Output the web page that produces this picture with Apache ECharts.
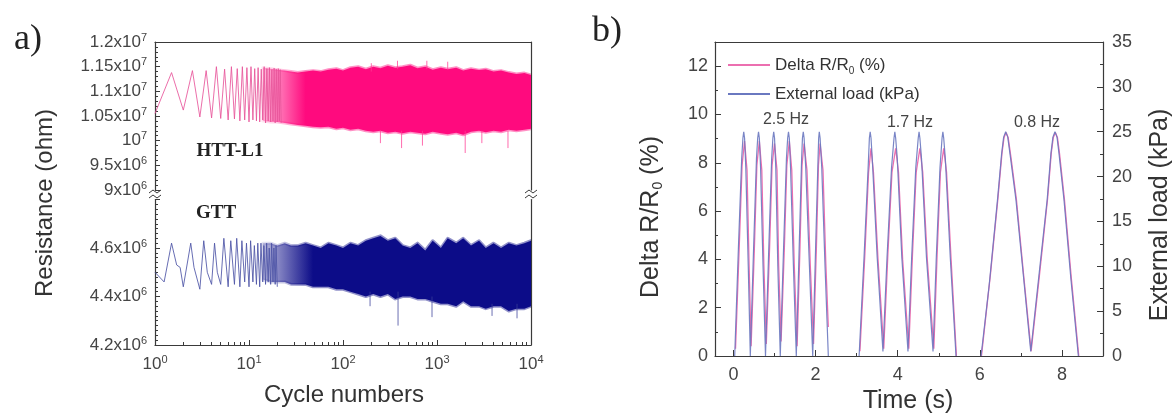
<!DOCTYPE html>
<html>
<head>
<meta charset="utf-8">
<script src="https://cdn.jsdelivr.net/npm/echarts@6/dist/echarts.min.js"></script>
<style>html,body{margin:0;padding:0;background:#fff;}#c{width:1175px;height:416px;}</style>
</head>
<body>
<div id="c"></div>
<script>
// ---------- Panel a data (resistance in MΩ, x = cycle number) ----------
const htEarly = [[1,10.55],[1.5,11.38],[2,10.62],[2.5,11.42],[3,10.48],[3.5,11.42],[4,10.46],[4.5,11.5],[5,10.45],[5.5,11.45],[6,10.42],[6.5,11.5],[7,10.44],[7.5,11.46],[8,10.4],[8.5,11.5],[9,10.42],[9.5,11.48],[10,10.38],[10.5,11.5],[11,10.42],[11.5,11.46],[12,10.4],[12.5,11.48],[13,10.38],[13.5,11.45],[14,10.42],[14.5,11.5],[15,10.36],[15.5,11.46],[16,10.4],[16.5,11.48],[17,10.38],[17.5,11.44],[18,10.4],[18.5,11.47],[19,10.36],[19.5,11.45],[20,10.38],[20.5,11.46],[21,10.4],[21.5,11.44],[22,10.36]];
const gttEarly = [[1,4.50],[1.25,4.46],[1.5,4.62],[1.7,4.53],[1.85,4.52],[2,4.44],[2.4,4.62],[2.6,4.52],[3,4.43],[3.3,4.63],[3.6,4.5],[4,4.45],[4.3,4.62],[4.6,4.5],[5,4.45],[5.4,4.64],[6,4.44],[6.4,4.63],[7,4.45],[7.4,4.64],[8,4.44],[8.4,4.63],[9,4.46],[9.4,4.62],[10,4.44],[10.4,4.63],[11,4.46],[11.4,4.61],[12,4.45],[12.4,4.62],[13,4.44],[13.4,4.62],[14,4.46],[14.4,4.61],[15,4.45],[15.4,4.62],[16,4.46],[16.4,4.6],[17,4.45],[17.4,4.62],[18,4.46],[18.4,4.6],[19,4.45],[19.4,4.61],[20,4.44]];

const bandCycles = [14,17,20,24,28,33,40,48,58,70,85,100,120,145,175,210,250,300,360,430,520,620,750,900,1100,1300,1600,1900,2300,2800,3300,4000,4800,5800,7000,8500,10000];
const htHigh = [11.48,11.46,11.44,11.42,11.40,11.38,11.40,11.42,11.40,11.44,11.46,11.42,11.48,11.50,11.45,11.50,11.47,11.52,11.48,11.50,11.53,11.47,11.50,11.44,11.48,11.45,11.48,11.42,11.46,11.43,11.45,11.40,11.42,11.38,11.35,11.37,11.33];
const htLow  = [10.40,10.38,10.38,10.36,10.34,10.32,10.30,10.28,10.27,10.28,10.24,10.26,10.22,10.24,10.20,10.18,10.20,10.16,10.18,10.15,10.18,10.16,10.14,10.18,10.15,10.13,10.16,10.12,10.18,10.20,10.17,10.20,10.18,10.22,10.20,10.22,10.24];
const gttHigh = [4.62,4.62,4.61,4.62,4.61,4.61,4.62,4.61,4.60,4.62,4.61,4.60,4.62,4.61,4.63,4.64,4.65,4.63,4.64,4.61,4.60,4.62,4.59,4.63,4.60,4.64,4.62,4.64,4.61,4.63,4.60,4.62,4.60,4.62,4.61,4.62,4.63];
const gttLow  = [4.47,4.46,4.46,4.46,4.45,4.45,4.45,4.44,4.44,4.44,4.43,4.43,4.42,4.41,4.40,4.41,4.40,4.41,4.39,4.40,4.40,4.39,4.39,4.38,4.37,4.37,4.36,4.38,4.36,4.36,4.35,4.36,4.36,4.34,4.35,4.35,4.36];
// isolated spikes: [cycle, from, to]
const htSpikes = [[200,11.40,11.57],[250,9.95,10.2],[380,11.45,11.62],[420,9.85,10.2],[700,9.9,10.2],[780,11.45,11.62],[1300,11.45,11.6],[1995,9.75,10.2],[3000,9.95,10.2],[5690,9.85,10.2]];
const gttSpikes = [[194,4.36,4.42],[385,4.28,4.42],[885,4.315,4.4],[3850,4.32,4.37],[7100,4.31,4.37]];
const cycleMajorTicks = [1,10,100,1000,10000];
const cycleMinorTicks = [2,3,4,5,6,7,8,9,20,30,40,50,60,70,80,90,200,300,400,500,600,700,800,900,2000,3000,4000,5000,6000,7000,8000,9000];

// ---------- Panel b data ----------
const deltaR = [[0.05,0.3],[0.14,4.5],[0.21,7.9],[0.27,8.9],[0.33,7.7],[0.38,3.8],[0.43,0.4],
[0.51,4.5],[0.57,7.9],[0.63,8.9],[0.69,7.7],[0.74,3.8],[0.8,0.5],
[0.88,4.5],[0.94,7.9],[1.0,8.8],[1.06,7.7],[1.1,3.8],[1.16,0.6],
[1.24,4.5],[1.30,7.9],[1.36,8.9],[1.42,7.7],[1.48,3.8],[1.55,0.4],
[1.62,4.5],[1.67,7.9],[1.72,8.8],[1.79,7.7],[1.87,3.8],[1.95,0.5],
[2.02,4.5],[2.07,7.9],[2.11,8.8],[2.18,7.7],[2.25,3.8],[2.31,1.2],[2.7,'-'],
[3.08,0.2],[3.2,4.2],[3.29,7.6],[3.35,8.6],[3.41,7.6],[3.52,4.0],[3.66,0.3],
[3.76,4.2],[3.86,7.6],[3.95,8.6],[4.02,7.6],[4.12,4.0],[4.27,0.3],
[4.36,4.2],[4.45,7.6],[4.54,8.6],[4.61,7.6],[4.72,4.0],[4.88,0.3],
[4.96,4.2],[5.04,7.6],[5.12,8.6],[5.19,7.6],[5.3,4.0],[5.43,0],[5.7,'-'],
[6.04,0],[6.26,3.4],[6.44,6.5],[6.54,8.4],[6.59,9.05],[6.64,9.25],[6.69,9.05],[6.76,8.2],[6.89,6.5],[7.07,3.3],[7.25,0.2],
[7.45,3.3],[7.65,6.5],[7.74,8.4],[7.79,9.05],[7.84,9.25],[7.89,9.05],[7.94,8.4],[8.06,6.5],[8.23,3.2],[8.41,0]];
const load = [[0.03,0],[0.12,12],[0.2,22],[0.23,24.3],[0.25,25],[0.27,24.3],[0.3,21],[0.36,10],[0.41,0],
[0.49,12],[0.56,22],[0.59,24.3],[0.61,25],[0.63,24.3],[0.66,21],[0.72,10],[0.78,0],
[0.86,12],[0.93,22],[0.96,24.3],[0.98,25],[1.0,24.3],[1.03,21],[1.08,10],[1.14,0],
[1.22,12],[1.29,22],[1.32,24.3],[1.34,25],[1.36,24.3],[1.39,21],[1.46,10],[1.53,0],
[1.6,12],[1.66,22],[1.68,24.3],[1.70,25],[1.72,24.3],[1.76,21],[1.85,10],[1.93,0],
[2.0,12],[2.06,22],[2.075,24.3],[2.09,25],[2.11,24.3],[2.15,21],[2.23,10],[2.31,0],[2.7,'-'],
[3.06,0],[3.18,11],[3.28,21],[3.31,24.3],[3.33,25],[3.35,24.3],[3.38,22],[3.5,11],[3.64,0.5],
[3.74,11],[3.85,21],[3.91,24.3],[3.93,25],[3.95,24.3],[3.99,22],[4.1,11],[4.25,0.5],
[4.34,11],[4.44,21],[4.50,24.3],[4.52,25],[4.54,24.3],[4.58,22],[4.7,11],[4.86,0.5],
[4.94,11],[5.03,21],[5.08,24.3],[5.1,25],[5.12,24.3],[5.16,22],[5.28,11],[5.42,0],[5.7,'-'],
[6.03,0],[6.23,8],[6.43,17.4],[6.53,22.5],[6.58,24.4],[6.63,25],[6.68,24.4],[6.75,22],[6.88,17.4],[7.06,9],[7.24,0.5],
[7.44,9],[7.64,17.4],[7.73,22.5],[7.78,24.4],[7.83,25],[7.88,24.4],[7.93,22.5],[8.05,17.4],[8.22,8.5],[8.4,0]];
const timeMajorTicks = [0,2,4,6,8];
const timeMinorTicks = [1,3,5,7];
const freqLabels = ['2.5 Hz','1.7 Hz','0.8 Hz'];
const nameDelta = 'Delta R/R0 (%)';
const nameLoad = 'External load (kPa)';

// ---------- helpers ----------
const AX = '#3a3a3a', LBL = '#444';
const SANS = '"Liberation Sans", Arial, sans-serif';
const SERIF = '"Liberation Serif", "Times New Roman", serif';
function fmtOhm(v){
  const ohm = v*1e6;
  const e = Math.floor(Math.log10(ohm)+1e-9);
  const m = Math.round(ohm/Math.pow(10,e)*100)/100;
  return (m === 1 ? '{a|10}' : '{a|' + m + 'x10}') + '{s|' + e + '}';
}
const supRich = {a:{fontSize:17,fontFamily:SANS,color:LBL,lineHeight:20}, s:{fontSize:11,fontFamily:SANS,color:LBL,lineHeight:11,verticalAlign:'top'}};
function hexA(hex, a){ const n=parseInt(hex.slice(1),16); return 'rgba('+(n>>16)+','+((n>>8)&255)+','+(n&255)+','+a+')'; }
function bandSeries(xi, yi, cycles, lo, hi, color, solidAt){
  return {type:'custom', xAxisIndex:xi, yAxisIndex:yi, clip:true, z:2,
    data: cycles.map((c,i)=>[c, lo[i], hi[i]]),
    encode:{x:0, y:[1,2]},
    renderItem:function(params, api){
      if (params.dataIndex !== 0) return null;
      const pts = [];
      for (let i=0;i<cycles.length;i++) pts.push(api.coord([cycles[i], hi[i]]));
      for (let i=cycles.length-1;i>=0;i--) pts.push(api.coord([cycles[i], lo[i]]));
      const x0 = api.coord([cycles[0], lo[0]])[0], x1 = api.coord([solidAt, lo[0]])[0];
      const grad = {type:'linear', x:x0, y:0, x2:x1, y2:0, global:true,
        colorStops:[{offset:0,color:hexA(color,0.28)},{offset:1,color:hexA(color,1)}]};
      const gradS = {type:'linear', x:x0, y:0, x2:x1, y2:0, global:true,
        colorStops:[{offset:0,color:hexA(color,0.1)},{offset:1,color:hexA(color,0.45)}]};
      return {type:'polygon', shape:{points:pts}, style:{fill:grad, stroke:gradS, lineWidth:3, lineJoin:'round'}};
    }};
}
function spikeSeries(xi, yi, spikes, color){
  return {type:'custom', xAxisIndex:xi, yAxisIndex:yi, clip:true, z:3,
    data: spikes, encode:{x:0, y:[1,2]},
    renderItem:function(params, api){
      const s = spikes[params.dataIndex];
      const a = api.coord([s[0],s[1]]), b = api.coord([s[0],s[2]]);
      return {type:'line', shape:{x1:a[0],y1:a[1],x2:b[0],y2:b[1]}, style:{stroke:color, lineWidth:1, opacity:0.75}};
    }};
}
const lineOnly = {show:true, onZero:false, lineStyle:{color:AX, width:1.2}};
const noTick = {show:false}, noLabel = {show:false}, noSplit = {show:false};

const chart = echarts.init(document.getElementById('c'), null, {renderer:'canvas'});
chart.setOption({
  animation:false,
  backgroundColor:'#fff',
  grid:[
    {left:155, right:644, top:42, bottom:226, outerBoundsMode:'none'},
    {left:155, right:644, top:199.5, bottom:71, outerBoundsMode:'none'},
    {left:715, right:72, top:42, bottom:60, outerBoundsMode:'none'}
  ],
  xAxis:[
    {gridIndex:0, type:'log', logBase:10, min:1, max:10000, position:'top', axisLine:lineOnly, axisTick:noTick, axisLabel:noLabel, splitLine:noSplit},
    {gridIndex:1, type:'log', logBase:10, min:1, max:10000, position:'bottom', axisLine:lineOnly,
      axisTick:{show:true, inside:true, length:5, customValues:cycleMajorTicks, lineStyle:{color:AX}},
      axisLabel:{show:true, margin:9, customValues:cycleMajorTicks, formatter:function(v){return '{a|10}{s|' + Math.round(Math.log10(v)) + '}';}, rich:supRich},
      splitLine:noSplit},
    {gridIndex:1, type:'log', logBase:10, min:1, max:10000, position:'bottom', axisLine:{show:false, onZero:false},
      axisTick:{show:true, inside:true, length:3, customValues:cycleMinorTicks, lineStyle:{color:AX}}, axisLabel:noLabel, splitLine:noSplit},
    {gridIndex:2, type:'value', min:-0.45, max:9, position:'bottom', axisLine:lineOnly,
      axisTick:{show:true, inside:true, length:6, customValues:timeMajorTicks, lineStyle:{color:AX}},
      axisLabel:{show:true, margin:10, customValues:timeMajorTicks, fontSize:18, fontFamily:SANS, color:LBL},
      splitLine:noSplit},
    {gridIndex:2, type:'value', min:-0.45, max:9, position:'bottom', axisLine:{show:false, onZero:false},
      axisTick:{show:true, inside:true, length:3, customValues:timeMinorTicks, lineStyle:{color:AX}}, axisLabel:noLabel, splitLine:noSplit},
    {gridIndex:2, type:'value', min:-0.45, max:9, position:'top', axisLine:lineOnly, axisTick:noTick, axisLabel:noLabel, splitLine:noSplit}
  ],
  yAxis:[
    {gridIndex:0, type:'value', min:9, max:12, interval:0.5, position:'left', axisLine:lineOnly,
      axisTick:{show:true, inside:true, length:5, lineStyle:{color:AX}}, minorTick:{show:true, splitNumber:5, length:3, lineStyle:{color:AX}},
      axisLabel:{margin:8, formatter:fmtOhm, rich:supRich}, splitLine:noSplit, minorSplitLine:noSplit},
    {gridIndex:0, type:'value', min:9, max:12, position:'right', axisLine:lineOnly, axisTick:noTick, axisLabel:noLabel, splitLine:noSplit},
    {gridIndex:1, type:'value', min:4.2, max:4.8, interval:0.2, position:'left', axisLine:lineOnly,
      axisTick:{show:true, inside:true, length:5, lineStyle:{color:AX}}, minorTick:{show:true, splitNumber:10, length:3, lineStyle:{color:AX}},
      axisLabel:{margin:8, formatter:function(v){return v>4.7 ? '' : fmtOhm(v);}, rich:supRich}, splitLine:noSplit, minorSplitLine:noSplit},
    {gridIndex:1, type:'value', min:4.2, max:4.8, position:'right', axisLine:lineOnly, axisTick:noTick, axisLabel:noLabel, splitLine:noSplit},
    {gridIndex:2, type:'value', min:0, max:13, interval:2, position:'left', axisLine:lineOnly,
      axisTick:{show:true, inside:true, length:6, lineStyle:{color:AX}}, minorTick:{show:true, splitNumber:2, length:3, lineStyle:{color:AX}},
      axisLabel:{margin:7, fontSize:18, fontFamily:SANS, color:LBL, formatter:function(v){return v%2===0 ? String(v) : '';}}, splitLine:noSplit, minorSplitLine:noSplit},
    {gridIndex:2, type:'value', min:0, max:35, interval:5, position:'right', axisLine:lineOnly,
      axisTick:{show:true, inside:true, length:6, lineStyle:{color:AX}}, minorTick:{show:true, splitNumber:2, length:3, lineStyle:{color:AX}},
      axisLabel:{margin:9, fontSize:18, fontFamily:SANS, color:LBL}, splitLine:noSplit, minorSplitLine:noSplit}
  ],
  legend:{
    data:[nameDelta, nameLoad], orient:'vertical', left:723, top:49, itemGap:7, itemWidth:42, itemHeight:2, icon:'rect',
    formatter:function(n){ return n === nameDelta ? 'Delta R/R{sub|0} (%)' : n; },
    textStyle:{fontSize:17, fontFamily:SANS, color:'#333', lineHeight:22, rich:{sub:{fontSize:10, fontFamily:SANS, color:'#333', lineHeight:11, verticalAlign:'bottom'}}}
  },
  series:[
    bandSeries(0, 0, bandCycles, htLow, htHigh, '#ff0a7e', 40),
    spikeSeries(0, 0, htSpikes, '#ff3b93'),
    {type:'line', xAxisIndex:0, yAxisIndex:0, data:htEarly, showSymbol:false, z:4, lineStyle:{color:'#e8559a', width:1, opacity:0.85}},
    bandSeries(1, 2, bandCycles, gttLow, gttHigh, '#0c0c88', 48),
    spikeSeries(1, 2, gttSpikes, '#3a3f9a'),
    {type:'line', xAxisIndex:1, yAxisIndex:2, data:gttEarly, showSymbol:false, z:4, lineStyle:{color:'#4c54a6', width:1, opacity:0.85}},
    {name:nameDelta, type:'line', xAxisIndex:3, yAxisIndex:4, data:deltaR, showSymbol:false, connectNulls:false, z:4, itemStyle:{color:'#ec6fb0'}, lineStyle:{color:'#ec6fb0', width:1.3}},
    {name:nameLoad, type:'line', xAxisIndex:3, yAxisIndex:5, data:load, showSymbol:false, connectNulls:false, z:5, itemStyle:{color:'#6a78c0'}, lineStyle:{color:'#6a78c0', width:1.2, opacity:0.9}}
  ],
  graphic:[
    {type:'text', x:28, y:40, style:{text:'a)', font:'36px ' + SERIF, fill:'#222', textAlign:'center', textVerticalAlign:'middle', align:'center', verticalAlign:'middle'}},
    {type:'text', x:607, y:32, style:{text:'b)', font:'36px ' + SERIF, fill:'#222', textAlign:'center', textVerticalAlign:'middle', align:'center', verticalAlign:'middle'}},
    {type:'text', x:230, y:151, style:{text:'HTT-L1', font:'bold 19px ' + SERIF, fill:'#222', textAlign:'center', textVerticalAlign:'middle', align:'center', verticalAlign:'middle'}},
    {type:'text', x:216, y:213, style:{text:'GTT', font:'bold 19px ' + SERIF, fill:'#222', textAlign:'center', textVerticalAlign:'middle', align:'center', verticalAlign:'middle'}},
    {type:'text', x:45, y:203, rotation:Math.PI/2, style:{text:'Resistance (ohm)', font:'24px ' + SANS, fill:'#333', textAlign:'center', textVerticalAlign:'middle', align:'center', verticalAlign:'middle'}},
    {type:'text', x:344, y:395, style:{text:'Cycle numbers', font:'24px ' + SANS, fill:'#333', textAlign:'center', textVerticalAlign:'middle', align:'center', verticalAlign:'middle'}},
    {type:'text', x:651, y:217, rotation:Math.PI/2, style:{text:'Delta R/R{sub|0} (%)', font:'25px ' + SANS, fill:'#333', textAlign:'center', textVerticalAlign:'middle', align:'center', verticalAlign:'middle', rich:{sub:{font:'14px ' + SANS, fill:'#333', lineHeight:14, verticalAlign:'bottom'}}, lineHeight:28}},
    {type:'text', x:1160, y:215, rotation:Math.PI/2, style:{text:'External load (kPa)', font:'25px ' + SANS, fill:'#333', textAlign:'center', textVerticalAlign:'middle', align:'center', verticalAlign:'middle'}},
    {type:'text', x:908, y:401, style:{text:'Time (s)', font:'25px ' + SANS, fill:'#333', textAlign:'center', textVerticalAlign:'middle', align:'center', verticalAlign:'middle'}},
    {type:'text', x:786, y:120, style:{text:freqLabels[0], font:'16px ' + SANS, fill:'#444', textAlign:'center', textVerticalAlign:'middle', align:'center', verticalAlign:'middle'}},
    {type:'text', x:910, y:123, style:{text:freqLabels[1], font:'16px ' + SANS, fill:'#444', textAlign:'center', textVerticalAlign:'middle', align:'center', verticalAlign:'middle'}},
    {type:'text', x:1037, y:123, style:{text:freqLabels[2], font:'16px ' + SANS, fill:'#444', textAlign:'center', textVerticalAlign:'middle', align:'center', verticalAlign:'middle'}},
    // axis break marks
    {type:'rect', shape:{x:150, y:191, width:10, height:7}, style:{fill:'#fff'}, z:100},
    {type:'rect', shape:{x:526, y:191, width:10, height:7}, style:{fill:'#fff'}, z:100},
    {type:'polyline', shape:{points:[[149,193],[153,190],[157,193],[161,190]]}, style:{stroke:AX, lineWidth:1, fill:null}, z:101},
    {type:'polyline', shape:{points:[[149,198],[153,195],[157,198],[161,195]]}, style:{stroke:AX, lineWidth:1, fill:null}, z:101},
    {type:'polyline', shape:{points:[[525,193],[529,190],[533,193],[537,190]]}, style:{stroke:AX, lineWidth:1, fill:null}, z:101},
    {type:'polyline', shape:{points:[[525,198],[529,195],[533,198],[537,195]]}, style:{stroke:AX, lineWidth:1, fill:null}, z:101}
  ]
});
</script>
</body>
</html>
